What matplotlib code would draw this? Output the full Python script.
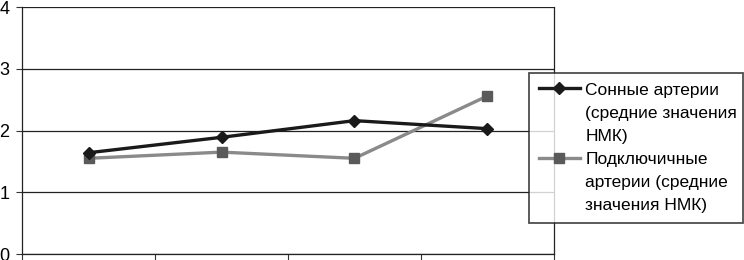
import matplotlib
matplotlib.use("Agg")
import matplotlib.pyplot as plt
from matplotlib.lines import Line2D

plt.rcParams['font.family'] = ['Liberation Sans', 'DejaVu Sans']

categories = ["1", "2", "3", "4"]
carotid = [1.64, 1.89, 2.16, 2.03]
subclavian = [1.55, 1.65, 1.55, 2.56]
yticks = [0, 1, 2, 3, 4]
label_carotid = ["Сонные артерии", "(средние значения", "НМК)"]
label_subclavian = ["Подключичные", "артерии (средние", "значения НМК)"]

fig = plt.figure(figsize=(7.44, 2.6), dpi=100)
ax = fig.add_axes([0.0296, 0.023, 0.715, 0.950])

x = list(range(len(categories)))
l1, = ax.plot(x, carotid, color='#1a1a1a', lw=2.4, marker='D', ms=6.5,
              mfc='#1a1a1a', mec='#1a1a1a', zorder=4)
l2, = ax.plot(x, subclavian, color='#8a8a8a', lw=2.4, marker='s', ms=6.5,
              mfc='#5a5a5a', mec='#5a5a5a', zorder=3)

ax.set_xlim(-0.5, len(categories) - 0.5)
ax.set_ylim(0, 4)
ax.set_yticks(yticks)
ax.set_yticklabels([str(v) for v in yticks], fontsize=13)
ax.set_xticks([i + 0.5 for i in range(-1, len(categories))])
ax.set_xticklabels([])
ax.tick_params(axis='x', direction='out', length=5, width=0.8, color='#333333')
ax.tick_params(axis='y', direction='out', length=4.5, width=0.8, pad=4.5, color='#333333')
ax.grid(axis='y', color='#222222', lw=0.9)
for s in ax.spines.values():
    s.set_color('#222222')
    s.set_linewidth(0.9)
ax.spines['top'].set_visible(False)

# one row per text line, handle only on the first line of each entry
blank = Line2D([], [], lw=0, marker=None)
handles = [l1, blank, blank, l2, blank, blank]
labels = label_carotid + label_subclavian
leg = fig.legend(handles, labels, loc='upper left',
                 bbox_to_anchor=(0.711, 0.146, 0.287, 0.574), mode='expand',
                 fontsize=12.5, frameon=True, fancybox=False, shadow=False,
                 handlelength=2.4, labelspacing=0.46, borderpad=0.55,
                 handletextpad=0.3, borderaxespad=0)
leg.get_frame().set_edgecolor('#222222')
leg.get_frame().set_linewidth(1.3)

fig.savefig("out.png", dpi=100)
